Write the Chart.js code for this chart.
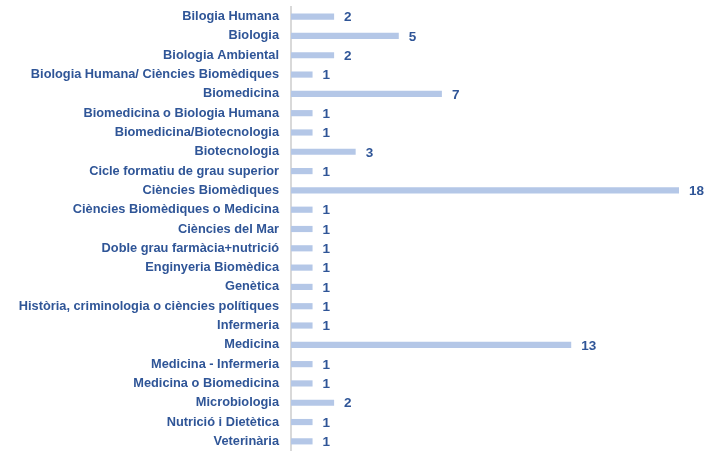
<!DOCTYPE html>
<html>
<head>
<meta charset="utf-8">
<script src="https://cdn.jsdelivr.net/npm/chart.js@4.4.0/dist/chart.umd.min.js"></script>
<style>
html,body{margin:0;padding:0;background:#fff;}
#wrap{width:711px;height:451px;position:relative;}
</style>
</head>
<body>
<div id="wrap"><canvas id="c"></canvas></div>
<script>
const categories = [
  "Bilogia Humana",
  "Biologia",
  "Biologia Ambiental",
  "Biologia Humana/ Ciències Biomèdiques",
  "Biomedicina",
  "Biomedicina o Biologia Humana",
  "Biomedicina/Biotecnologia",
  "Biotecnologia",
  "Cicle formatiu de grau superior",
  "Ciències Biomèdiques",
  "Ciències Biomèdiques o Medicina",
  "Ciències del Mar",
  "Doble grau farmàcia+nutrició",
  "Enginyeria Biomèdica",
  "Genètica",
  "Història, criminologia o ciències polítiques",
  "Infermeria",
  "Medicina",
  "Medicina - Infermeria",
  "Medicina o Biomedicina",
  "Microbiologia",
  "Nutrició i Dietètica",
  "Veterinària"
];
const values = [2,5,2,1,7,1,1,3,1,18,1,1,1,1,1,1,1,13,1,1,2,1,1];

const TEXT = '#2F5597';
const FONT = '"Liberation Sans", Arial, sans-serif';

const valueLabels = {
  id: 'valueLabels',
  afterDatasetsDraw(chart) {
    const ctx = chart.ctx;
    const meta = chart.getDatasetMeta(0);
    ctx.save();
    ctx.fillStyle = TEXT;
    ctx.font = 'bold 13.5px ' + FONT;
    ctx.textAlign = 'left';
    ctx.textBaseline = 'middle';
    meta.data.forEach((bar, i) => {
      ctx.fillText(String(values[i]), bar.x + 10, bar.y + 1);
    });
    ctx.restore();
  }
};

new Chart(document.getElementById('c'), {
  type: 'bar',
  data: {
    labels: categories,
    datasets: [{
      data: values,
      backgroundColor: '#B4C7E7',
      borderWidth: 0,
      barPercentage: 0.32,
      categoryPercentage: 1
    }]
  },
  options: {
    indexAxis: 'y',
    responsive: true,
    maintainAspectRatio: false,
    animation: false,
    layout: { padding: { left: 0, right: 32, top: 7, bottom: -2 } },
    plugins: { legend: { display: false }, tooltip: { enabled: false } },
    scales: {
      x: { display: false, min: 0, max: 18 },
      y: {
        afterFit(scale) { scale.width = 291; scale.paddingTop = 0; scale.paddingBottom = 0; },
        grid: { display: false, drawTicks: false },
        border: { display: true, color: '#D9D9D9', width: 2 },
        ticks: {
          color: TEXT,
          padding: 12,
          autoSkip: false,
          font: { family: FONT, weight: 'bold', size: 12.8 }
        }
      }
    }
  },
  plugins: [valueLabels]
});
</script>
</body>
</html>
